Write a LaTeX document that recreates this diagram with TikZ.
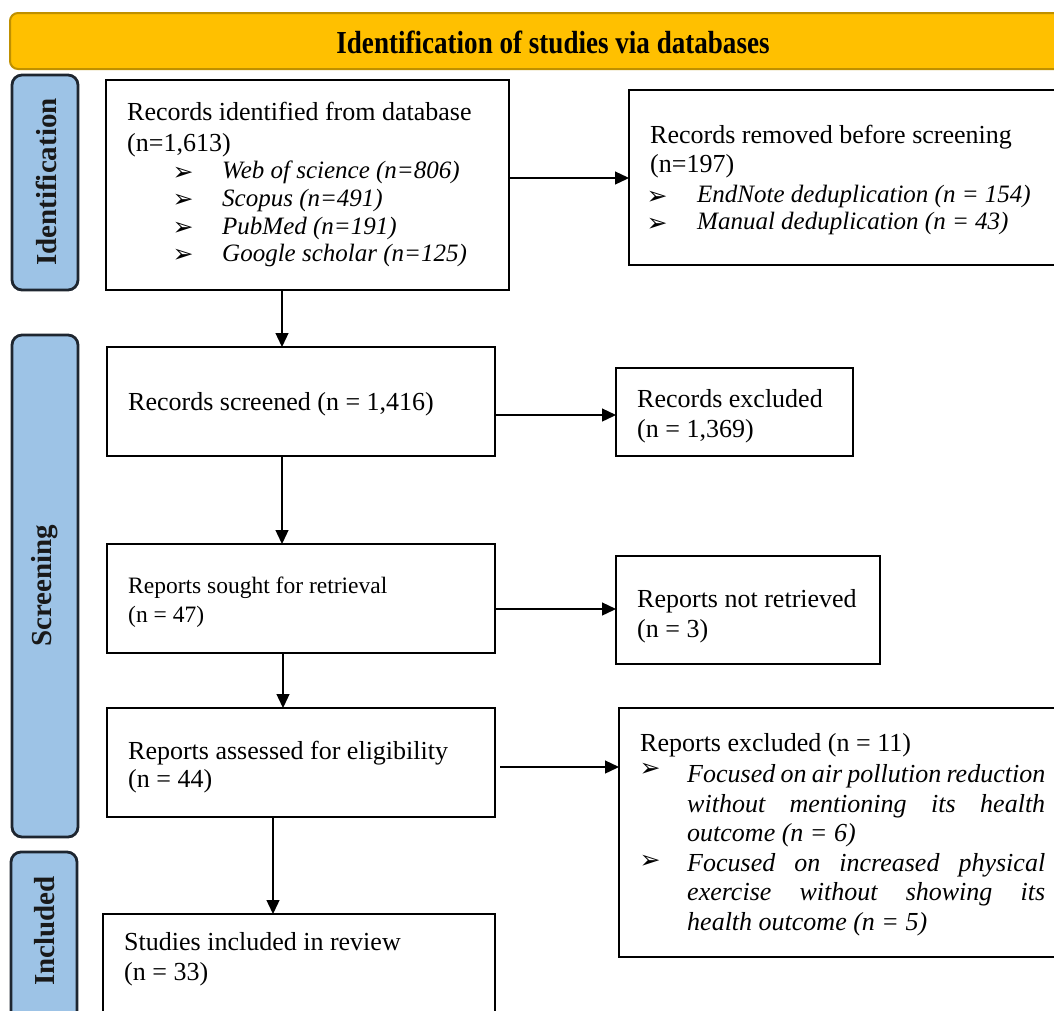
\documentclass[tikz,border=0pt]{standalone}
\usepackage{fontspec}
\setmainfont{Liberation Serif}
\newfontfamily\dejavu{DejaVu Sans}
\usepackage{graphicx}
\usetikzlibrary{arrows.meta}
\definecolor{hdrfill}{HTML}{FFC000}
\definecolor{hdrdraw}{HTML}{BF9000}
\definecolor{sidefill}{HTML}{9DC3E6}
\definecolor{sidedraw}{HTML}{1E2630}
\begin{document}
\begin{tikzpicture}[x=1pt,y=-1pt,
 box/.style={draw=black, line width=2.8pt, anchor=north west, inner sep=0pt, outer sep=0pt, fill=white},
 side/.style={draw=sidedraw, fill=sidefill, line width=2.8pt, rounded corners=10pt, anchor=north west, inner sep=0pt, outer sep=0pt, minimum width=66pt},
 sidetxt/.style={rotate=90, font=\fontsize{29}{29}\selectfont\bfseries, inner sep=0pt, text=black!90},
 txt/.style={anchor=base west, inner sep=0pt, font=\fontsize{26}{30}\selectfont},
 stxt/.style={anchor=base west, inner sep=0pt, font=\fontsize{23.5}{28}\selectfont},
 itx/.style={anchor=base west, inner sep=0pt, font=\fontsize{25}{30}\selectfont\itshape},
 itxb/.style={anchor=base west, inner sep=0pt, font=\fontsize{26}{30}\selectfont\itshape},
 bul/.style={inner sep=0pt, anchor=base, text height=0pt, text depth=0pt, font=\dejavu\fontsize{25}{25}\selectfont},
 arr/.style={line width=1.3pt, -{Triangle[length=14pt,width=13pt]}}
]
\useasboundingbox (0,0) rectangle (1054,1010);
\clip (0,0) rectangle (1054,1010);
\fill[white] (0,0) rectangle (1054,1010);

% header
\node[draw=hdrdraw, fill=hdrfill, line width=2pt, rounded corners=8pt, anchor=north west, inner sep=0pt, minimum width=1080pt, minimum height=56pt] (hdr) at (9,12) {};
\node[anchor=base, inner sep=0pt, font=\fontsize{32}{32}\selectfont\bfseries] (hdrt) at (553,53) {\scalebox{0.846}[1]{Identification of studies via databases}};

% side labels
\node[side, minimum height=215pt] (sid1) at (12,75) {};
\node[sidetxt] (sidt1) at (46,182) {Identification};
\node[side, minimum height=502pt] (sid2) at (12,335) {};
\node[sidetxt] (sidt2) at (45,586) {Screening};
\node[side, minimum height=180pt] (sid3) at (11,852) {};
\node[sidetxt] (sidt3) at (45,931) {Included};

% boxes
\node[box, minimum width=403pt, minimum height=210pt] (b1) at (106,80) {};
\node[box, minimum width=460pt, minimum height=175pt] (b2) at (629,90) {};
\node[box, minimum width=388pt, minimum height=109pt] (b3) at (107,347) {};
\node[box, minimum width=237pt, minimum height=88pt] (b4) at (616,368) {};
\node[box, minimum width=388pt, minimum height=109pt] (b5) at (107,544) {};
\node[box, minimum width=264pt, minimum height=108pt] (b6) at (616,556) {};
\node[box, minimum width=388pt, minimum height=109pt] (b7) at (107,708) {};
\node[box, minimum width=460pt, minimum height=249pt] (b8) at (619,708) {};
\node[box, minimum width=392pt, minimum height=130pt] (b9) at (103,914) {};

% box 1 text
\node[txt] (t1a) at (127,120) {Records identified from database};
\node[txt] (t1b) at (127,151) {(n=1,613)};
\node[bul] (u1a) at (183,180) {➢};
\node[itx] (t1c) at (222,178) {Web of science (n=806)};
\node[bul] (u1b) at (183,207.5) {➢};
\node[itx] (t1d) at (222,206) {Scopus (n=491)};
\node[bul] (u1c) at (183,235) {➢};
\node[itx] (t1e) at (222,234) {PubMed (n=191)};
\node[bul] (u1d) at (183,262.5) {➢};
\node[itx] (t1f) at (222,261.5) {Google scholar (n=125)};

% box 2 text
\node[txt] (t2a) at (650,143) {Records removed before screening};
\node[txt] (t2b) at (650,172) {(n=197)};
\node[bul] (u2a) at (657,204.5) {➢};
\node[itx] (t2c) at (697,202) {EndNote deduplication (n = 154)};
\node[bul] (u2b) at (657,231) {➢};
\node[itx] (t2d) at (697,229) {Manual deduplication (n = 43)};

% box 3, 4
\node[txt] (t3a) at (128,410) {Records screened (n = 1,416)};
\node[txt] (t4a) at (637,407) {Records excluded};
\node[txt] (t4b) at (637,437) {(n = 1,369)};

% box 5, 6
\node[stxt] (t5a) at (128,593.5) {Reports sought for retrieval};
\node[stxt] (t5b) at (128,622) {(n = 47)};
\node[txt] (t6a) at (637,607) {Reports not retrieved};
\node[txt] (t6b) at (637,637) {(n = 3)};

% box 7
\node[txt] (t7a) at (128,759) {Reports assessed for eligibility};
\node[txt] (t7b) at (128,787) {(n = 44)};

% box 8
\node[txt] (t8a) at (640,751) {Reports excluded (n = 11)};
\node[bul] (u8a) at (650,776) {➢};
\node[itxb] (t8b) at (687,782.5) {\makebox[358pt][s]{Focused on air pollution reduction}};
\node[itxb] (t8c) at (687,812) {\makebox[358pt][s]{without mentioning its health}};
\node[itxb] (t8d) at (687,841.5) {outcome (n = 6)};
\node[bul] (u8b) at (650,868) {➢};
\node[itxb] (t8e) at (687,871) {\makebox[358pt][s]{Focused on increased physical}};
\node[itxb] (t8f) at (687,900.5) {\makebox[358pt][s]{exercise without showing its}};
\node[itxb] (t8g) at (687,930) {health outcome (n = 5)};

% box 9
\node[txt] (t9a) at (124,950) {Studies included in review};
\node[txt] (t9b) at (124,980) {(n = 33)};

% connectors
\coordinate (v1) at (282,0);
\coordinate (v3) at (283,0);
\coordinate (v4) at (273,0);
\coordinate (h1) at (0,178);
\coordinate (h2) at (0,415);
\coordinate (h3) at (0,609);
\coordinate (h4) at (0,767);
\draw[arr] (b1.south -| v1) -- (b3.north -| v1);
\draw[arr] (b3.south -| v1) -- (b5.north -| v1);
\draw[arr] (b5.south -| v3) -- (b7.north -| v3);
\draw[arr] (b7.south -| v4) -- (b9.north -| v4);
\draw[arr] (b1.east |- h1) -- (b2.west |- h1);
\draw[arr] (b3.east |- h2) -- (b4.west |- h2);
\draw[arr] (b5.east |- h3) -- (b6.west |- h3);
\draw[arr] ([xshift=5pt]b7.east |- h4) -- (b8.west |- h4);
\end{tikzpicture}
\end{document}
